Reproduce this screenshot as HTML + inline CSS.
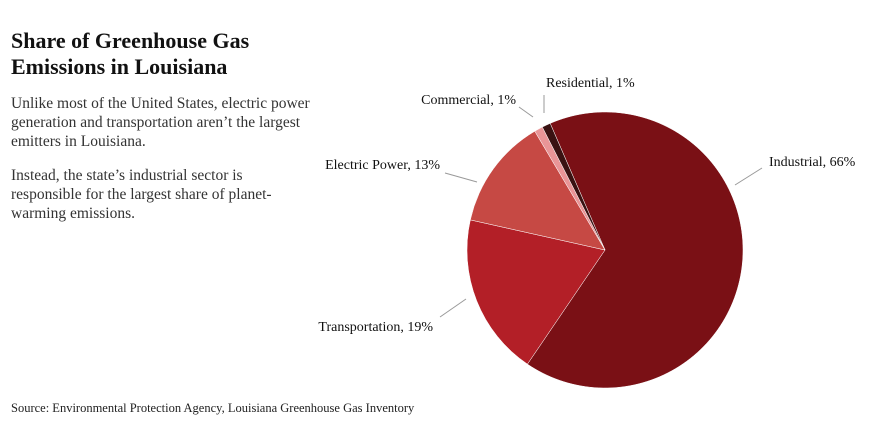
<!DOCTYPE html>
<html><head><meta charset="utf-8"><style>
body{margin:0;background:#fff;width:880px;height:440px;overflow:hidden;font-family:"Liberation Serif",serif;color:#111}
h1{position:absolute;left:11px;top:28px;margin:0;font-size:22px;line-height:26px;font-weight:bold}
.desc{position:absolute;left:11px;top:94px;width:300px;font-size:15.5px;line-height:19px;color:#333;margin:0}
.src{position:absolute;left:11px;top:401px;font-size:12.5px;color:#222}
svg{position:absolute;left:0;top:0}
svg text{font-family:"Liberation Serif",serif;font-size:14px;fill:#111}
</style></head><body>
<h1>Share of Greenhouse Gas<br>Emissions in Louisiana</h1>
<p class="desc">Unlike most of the United States, electric power generation and transportation aren’t the largest emitters in Louisiana.</p>
<p class="desc" style="top:166px">Instead, the state’s industrial sector is responsible for the largest share of planet-warming emissions.</p>
<div class="src">Source: Environmental Protection Agency, Louisiana Greenhouse Gas Inventory</div>
<svg width="880" height="440">
<g id="slices"></g>
<g stroke="#999" stroke-width="1">
<line x1="544" y1="95" x2="544" y2="113"/>
<line x1="519" y1="107" x2="533" y2="117"/>
<line x1="445" y1="173" x2="477" y2="182"/>
<line x1="735" y1="185" x2="762" y2="168"/>
<line x1="440" y1="317" x2="466" y2="299"/>
</g>
<text x="546" y="87">Residential, 1%</text>
<text x="516" y="104" text-anchor="end">Commercial, 1%</text>
<text x="440" y="169" text-anchor="end">Electric Power, 13%</text>
<text x="769" y="166">Industrial, 66%</text>
<text x="433" y="331" text-anchor="end">Transportation, 19%</text>
</svg>
<script>
const categories=["Industrial","Transportation","Electric Power","Commercial","Residential"];
const values=[66,19,13,1,1];
const colors=["#7a1015","#b31f27","#c64944","#e99597","#3a1212"];
const cx=605,cy=250,r=138,startDeg=-23.4;
const g=document.getElementById('slices');
const total=values.reduce((a,b)=>a+b,0);
let a=startDeg*Math.PI/180;
function pt(t){return [cx+r*Math.sin(t),cy-r*Math.cos(t)];}
values.forEach((v,i)=>{
  const a2=a+v/total*2*Math.PI;
  const p1=pt(a),p2=pt(a2);
  const large=(a2-a)>Math.PI?1:0;
  const p=document.createElementNS('http://www.w3.org/2000/svg','path');
  p.setAttribute('d',`M${cx},${cy}L${p1[0]},${p1[1]}A${r},${r} 0 ${large} 1 ${p2[0]},${p2[1]}Z`);
  p.setAttribute('fill',colors[i]);
  p.setAttribute('stroke','#fff');
  p.setAttribute('stroke-width','0.5');
  
  
  g.appendChild(p);
  a=a2;
});
</script>
</body></html>
